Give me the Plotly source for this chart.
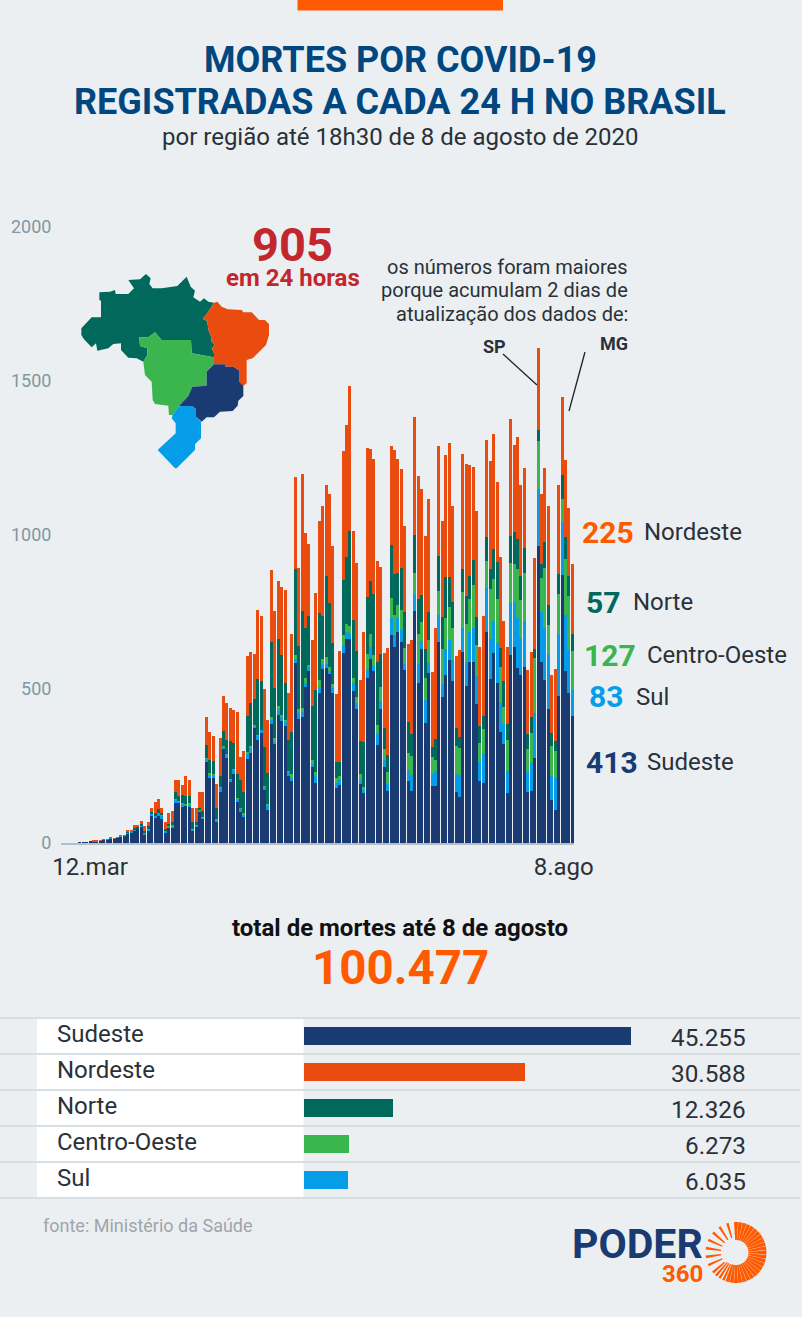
import math
import pandas as pd
import plotly.graph_objects as go

W, H = 802, 1317

# ---------- data (12 Mar .. 8 Aug 2020) ----------
dates = pd.date_range("2020-03-12", periods=150)

sudeste = [0,0,0,0,0,1,3,3,4,6,6,8,11,12,16,13,17,22,21,31,35,42,46,55,28,42,89,80,88,79,31,49,50,131,131,118,122,118,42,51,102,78,
263,212,211,71,167,304,277,199,224,134,102,83,273,293,372,336,358,172,107,388,322,416,397,380,217,201,585,401,409,507,558,246,194,486,566,567,548,
488,180,188,617,662,662,494,435,192,162,537,597,559,318,435,247,169,675,637,684,651,563,202,169,754,520,629,391,553,186,185,654,474,545,595,526,
167,150,621,510,589,589,451,201,196,686,531,616,520,361,320,161,610,635,567,545,570,167,170,277,964,587,528,434,140,107,478,870,559,486,413]
sul = [0,0,0,0,0,0,0,0,0,0,0,0,0,0,1,1,1,1,1,2,1,2,1,2,6,3,6,8,9,9,8,3,4,10,5,9,4,4,2,7,5,4,
11,11,10,6,12,9,12,8,16,11,9,11,15,14,10,13,9,11,16,14,6,18,11,13,15,9,14,22,16,13,14,11,24,22,15,14,9,
16,16,19,24,22,21,27,21,13,10,29,41,15,35,27,23,23,57,38,45,42,18,35,52,56,61,28,74,30,37,49,87,43,84,63,67,
56,70,78,77,97,108,91,63,97,141,131,105,130,95,66,72,168,148,164,121,151,64,89,146,184,163,171,180,78,108,202,173,180,141,83]
centro_oeste = [0,0,0,0,0,0,0,0,0,0,0,0,0,0,0,0,0,0,0,1,0,1,1,1,1,2,1,2,1,5,3,2,3,3,2,2,2,7,2,2,2,1,
2,5,3,1,2,2,1,1,1,1,2,2,8,8,2,1,1,2,3,6,12,11,8,6,2,14,11,11,13,17,5,13,13,22,16,22,16,
12,14,11,35,27,22,16,17,19,10,48,42,36,30,44,36,39,62,65,45,63,53,55,62,68,97,60,72,76,56,36,78,113,102,108,106,
93,87,117,124,106,140,101,60,76,89,164,136,141,114,56,101,130,124,160,122,155,74,97,177,157,111,193,93,97,83,127,74,183,175,127]
norte = [0,0,0,0,0,0,0,0,0,0,0,0,0,0,0,0,0,1,1,3,1,3,3,5,5,7,6,6,12,3,5,8,10,22,15,26,24,25,23,8,5,21,
42,41,43,36,38,50,44,123,83,77,90,68,115,138,84,182,159,128,102,245,162,218,194,122,100,137,279,207,315,161,161,176,266,216,140,265,206,
134,54,45,179,219,308,187,151,108,147,185,172,197,206,109,69,55,173,132,104,137,117,102,71,121,113,87,93,90,34,68,114,105,133,98,82,
56,38,75,91,75,82,92,56,44,76,65,97,121,63,84,54,90,103,95,79,82,49,52,30,36,45,84,66,41,32,66,78,70,65,57]
nordeste = [0,0,0,0,0,0,0,0,0,1,1,1,1,1,1,1,1,1,1,5,3,11,9,9,15,13,12,37,33,19,21,37,38,38,51,33,65,52,46,45,52,61,
92,91,81,78,122,113,119,106,108,201,76,134,195,166,145,224,209,187,171,234,252,187,221,300,154,318,298,253,444,308,233,213,316,301,357,295,354,
313,220,362,417,427,470,288,286,197,355,483,428,440,327,282,241,346,322,405,368,320,278,251,305,383,402,345,367,367,243,359,357,311,396,434,314,
235,281,371,428,359,303,343,256,325,317,349,375,259,294,194,249,378,281,332,296,261,207,211,296,265,227,243,322,189,235,288,252,253,220,225]

region_names = ["Sudeste", "Nordeste", "Norte", "Centro-Oeste", "Sul"]
region_totals = [45255, 30588, 12326, 6273, 6035]
grand_total = "100.477"
day_total = "905"
last_day = {"Nordeste": 225, "Norte": 57, "Centro-Oeste": 127, "Sul": 83, "Sudeste": 413}
y_ticks = [0, 500, 1000, 1500, 2000]
x_tick_dates = ["2020-03-20", "2020-08-05 12:00"]
x_tick_text = ["12.mar", "8.ago"]

# ---------- styles ----------
BG = "#ebeff2"
NAVY, ORANGE, TEAL, GREEN, BLUE = "#193b72", "#ea4b0f", "#00695c", "#3bb54d", "#059ce8"
BRIGHT = "#ff5a00"
TITLE = "#00467f"
DARK = "#2a3138"
region_colors = {"Sudeste": NAVY, "Nordeste": ORANGE, "Norte": TEAL, "Centro-Oeste": GREEN, "Sul": BLUE}

def px(x): return x / W
def py(y): return 1 - y / H

fig = go.Figure()

for name, vals in [("Sudeste", sudeste), ("Sul", sul), ("Centro-Oeste", centro_oeste),
                   ("Norte", norte), ("Nordeste", nordeste)]:
    fig.add_trace(go.Bar(x=dates, y=vals, name=name, marker_color=region_colors[name],
                         marker_line_width=0, xaxis="x", yaxis="y", hoverinfo="skip"))

fig.add_trace(go.Bar(y=region_names, x=region_totals, orientation="h", width=0.49,
                     marker_color=[region_colors[n] for n in region_names], marker_line_width=0,
                     xaxis="x2", yaxis="y2", hoverinfo="skip"))

anns, shapes = [], []

def text(x, y, s, size, color=DARK, bold=False, anchor="center", family="Roboto", box=None):
    a = dict(x=px(x), y=py(y), xref="paper", yref="paper", text=f"<b>{s}</b>" if bold else s,
             showarrow=False, xanchor=anchor, yanchor="middle",
             font=dict(family=family, size=size, color=color))
    if box:
        a["height"] = box
    anns.append(a)

def rect(x0, y0, x1, y1, color, layer="below"):
    shapes.append(dict(type="rect", xref="paper", yref="paper", x0=px(x0), x1=px(x1), y0=py(y0), y1=py(y1),
                       fillcolor=color, line_width=0, layer=layer))

def line(x0, y0, x1, y1, color, width=1.3, layer="above"):
    shapes.append(dict(type="line", xref="paper", yref="paper", x0=px(x0), x1=px(x1), y0=py(y0), y1=py(y1),
                       line=dict(color=color, width=width), layer=layer))

def poly(points, color):
    d = "M " + " L ".join(f"{px(x):.5f},{py(y):.5f}" for x, y in points) + " Z"
    shapes.append(dict(type="path", xref="paper", yref="paper", path=d, fillcolor=color, line_width=0, layer="above"))

# header
rect(297.5, 0, 503, 10.5, BRIGHT)
text(400, 60, "MORTES POR COVID-19", 36, TITLE, True)
text(400, 102, "REGISTRADAS A CADA 24 H NO BRASIL", 36, TITLE, True)
text(400, 137, "por região até 18h30 de 8 de agosto de 2020", 24)

# 24h callout
text(292.5, 244, day_total, 47, "#c1272d", True, box=40)
text(292.5, 278, "em 24 horas", 24, "#c1272d", True, box=22)
text(630, 267, "os números foram maiores", 20, anchor="right")
text(630, 290, "porque acumulam 2 dias de", 20, anchor="right")
text(630, 314, "atualização dos dados de:", 20, anchor="right")
text(494, 347, "SP", 18, DARK, True)
text(614, 343, "MG", 18, DARK, True)
line(503, 354, 537, 385, "#222222")
line(585, 352, 569, 411, "#222222")

# last-day legend
legend_rows = [("Nordeste", 607.5, 532, 642), ("Norte", 603, 602, 631), ("Centro-Oeste", 609.5, 655, 645),
               ("Sul", 605.5, 697, 634), ("Sudeste", 612, 762, 645)]
for name, cx, cy, nx in legend_rows:
    color = BRIGHT if name == "Nordeste" else region_colors[name]
    text(cx, cy, str(last_day[name]), 30, color, True)
    text(nx, cy, name, 24, anchor="left")

# map
def zoom_pts(pts): return [(60 + a / 3, 260 + b / 3) for a, b in pts]
map_norte = [(118,97),(150,95),(165,90),(167,102),(205,102),(222,85),(205,60),(240,58),(258,42),(272,55),(268,72),(278,85),(305,85),(352,78),(380,50),(392,80),(405,92),(400,112),(420,125),(432,115),(445,125),(462,128),(445,155),(428,177),(442,183),(445,210),(452,225),(455,245),(465,255),(455,265),(462,280),(462,292),(395,280),(393,240),(305,240),(285,217),(265,232),(238,232),(240,258),(262,265),(262,285),(250,305),(230,295),(205,293),(183,270),(183,250),(160,252),(145,265),(112,272),(108,250),(95,262),(72,238),(64,225),(64,205),(95,172),(123,172),(123,122),(118,120)]
map_co = [(238,232),(265,232),(285,217),(305,240),(393,240),(395,280),(462,292),(462,313),(440,335),(440,377),(397,380),(385,408),(355,440),(338,465),(327,465),(325,437),(285,432),(278,420),(275,365),(255,345),(250,305),(262,285),(262,265),(240,258)]
map_ne = [(462,128),(472,125),(485,140),(503,148),(545,150),(550,157),(575,157),(597,180),(615,180),(627,192),(627,225),(618,255),(578,295),(560,300),(560,370),(550,377),(538,365),(538,332),(520,320),(495,320),(495,313),(462,313),(462,280),(455,265),(465,255),(455,245),(452,225),(445,210),(442,183),(428,177),(445,155)]
map_se = [(462,313),(495,313),(495,320),(520,320),(538,332),(538,365),(550,377),(550,408),(535,422),(533,437),(518,453),(480,455),(462,472),(440,472),(425,485),(408,470),(408,447),(395,438),(365,438),(355,440),(385,408),(397,380),(440,377),(440,335)]
map_sul = [(365,438),(395,438),(408,447),(408,470),(423,485),(423,535),(405,553),(405,570),(350,625),(345,625),(293,570),(347,520),(347,490),(335,475),(338,465),(355,440)]
for pts, c in [(map_norte, TEAL), (map_co, GREEN), (map_ne, ORANGE), (map_se, NAVY), (map_sul, BLUE)]:
    poly(zoom_pts(pts), c)

# totals
text(400, 928, "total de mortes até 8 de agosto", 24, "#111111", True)
text(400, 968, grand_total, 47.5, BRIGHT, True)

row_top = 1018
for k in range(6):
    line(0, row_top + 36 * k, 800, row_top + 36 * k, "#d8dfe3", 2, "below")
for k, name in enumerate(region_names):
    rect(37, row_top + 1 + 36 * k, 303.5, row_top + 35 + 36 * k, "#ffffff")
    text(55, row_top + 16 + 36 * k, name, 24, anchor="left")
    text(748, row_top + 19.5 + 36 * k, f"{region_totals[k]:,}".replace(",", "."), 24.3, anchor="right")

text(41, 1225, "fonte: Ministério da Saúde", 18, "#a0a5aa", anchor="left")

# logo
text(705, 1244, "PODER", 41, NAVY, True, "right", box=32)
text(705, 1274, "360", 24, BRIGHT, True, "right", box=18)
cx, cy = 736, 1252.5
N = 44
for k in range(N):
    a = 90 - k * 360 / N          # clockwise from top
    t = k / N
    if t < 0.55:
        frac, rin = 0.92, 12.5
    elif t < 0.62:
        frac, rin = 0.6, 13
    else:
        if k % 2:
            continue
        frac, rin = 0.6, 15
    if t > 0.96:
        continue
    R = 30.5
    da = frac * 180 / N
    p = []
    for r, s in [(rin, -1), (R, -1), (R, 1), (rin, 1)]:
        ang = math.radians(a + s * da)
        p.append((cx + r * math.cos(ang), cy - r * math.sin(ang)))
    poly(p, BRIGHT)

fig.update_layout(
    template="none",
    width=W, height=H, autosize=False,
    margin=dict(l=0, r=0, t=0, b=0, pad=0, autoexpand=False),
    paper_bgcolor=BG, plot_bgcolor="rgba(0,0,0,0)",
    barmode="stack", bargap=0.12, showlegend=False,
    annotations=anns, shapes=shapes,
    xaxis=dict(domain=[px(61), px(574)], range=["2020-03-11 12:00", "2020-08-08 12:00"], type="date",
               tickmode="array", tickvals=x_tick_dates, ticktext=x_tick_text, automargin=False,
               tickfont=dict(family="Roboto", size=24, color=DARK), ticks="outside", ticklen=1,
               tickcolor="rgba(0,0,0,0)", showgrid=False, showline=True, linecolor="#b4bfc6", linewidth=1.5,
               zeroline=False, anchor="y"),
    yaxis=dict(domain=[py(843), py(227)], range=[0, 2000], tickmode="array", tickvals=y_ticks, automargin=False,
               tickfont=dict(family="Roboto", size=18, color="#83979f"), ticks="outside", ticklen=5,
               tickcolor="rgba(0,0,0,0)", showgrid=False, showline=False, zeroline=False, anchor="x"),
    xaxis2=dict(domain=[px(304), px(660)], range=[0, 356 / 0.00723], visible=False, anchor="y2", automargin=False),
    yaxis2=dict(domain=[py(row_top + 180), py(row_top)], type="category", categoryorder="array", automargin=False,
                categoryarray=region_names, autorange="reversed", visible=False, anchor="x2"),
)

fig.write_html("out.html", config={"displayModeBar": False},
               post_script="document.body.style.margin='0';document.body.style.background='#ffffff';")
